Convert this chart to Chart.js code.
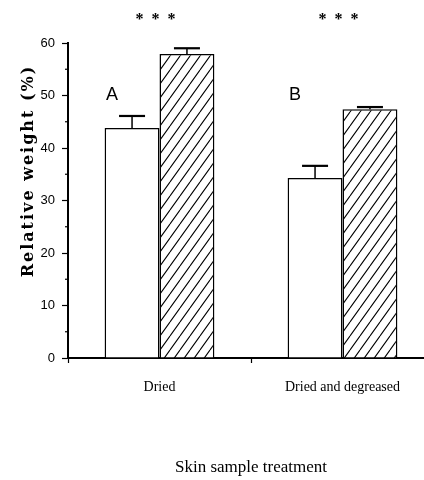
<!DOCTYPE html>
<html lang="en">

<head>
    <meta charset="UTF-8">
    <title>Relative weight by skin sample treatment</title>
    <script src="https://cdn.jsdelivr.net/npm/chart.js"></script>
    <style>
        html,
        body {
            margin: 0;
            padding: 0;
            background: #fff;
            overflow: hidden;
        }

        .wrap {
            width: 434px;
            height: 480px;
        }
    </style>
</head>

<body>
    <div class="wrap">
        <canvas id="weightChart" width="434" height="480"></canvas>
    </div>

    <script>
        // values
        const categories = ["Dried", "Dried and degreased"];
        const openValues = [43.8, 34.3];
        const openErrors = [2.3, 2.3];
        const hatchedValues = [57.9, 47.4];
        const hatchedErrors = [1.1, 0.4];
        const groupLetters = ["A", "B"];
        const significance = ["***", "***"];
        const yTicks = [0, 10, 20, 30, 40, 50, 60];
        const yMinorTicks = [5, 15, 25, 35, 45, 55];

        // diagonal hatch for the second bar of each pair
        function makeHatch() {
            const tile = document.createElement("canvas");
            tile.width = 10;
            tile.height = 14;
            const c = tile.getContext("2d");
            c.fillStyle = "#fff";
            c.fillRect(0, 0, 10, 14);
            c.strokeStyle = "#000";
            c.lineWidth = 1.1;
            c.beginPath();
            c.moveTo(-10, 14); c.lineTo(0, 0);
            c.moveTo(0, 14); c.lineTo(10, 0);
            c.moveTo(10, 14); c.lineTo(20, 0);
            c.stroke();
            return document.getElementById("weightChart").getContext("2d").createPattern(tile, "repeat");
        }

        const errorBars = {
            id: "errorBars",
            afterDatasetsDraw(chart) {
                const ctx = chart.ctx;
                const y = chart.scales.y;
                [openErrors, hatchedErrors].forEach((errs, di) => {
                    const meta = chart.getDatasetMeta(di);
                    meta.data.forEach((bar, i) => {
                        const val = chart.data.datasets[di].data[i];
                        const top = y.getPixelForValue(val + errs[i]);
                        ctx.save();
                        ctx.strokeStyle = "#000";
                        ctx.lineWidth = 1.5;
                        ctx.beginPath();
                        ctx.moveTo(bar.x, bar.y);
                        ctx.lineTo(bar.x, top);
                        ctx.stroke();
                        ctx.lineWidth = 2.2;
                        ctx.beginPath();
                        ctx.moveTo(bar.x - 13, top);
                        ctx.lineTo(bar.x + 13, top);
                        ctx.stroke();
                        ctx.restore();
                    });
                });
            }
        };

        const extras = {
            id: "extras",
            afterDraw(chart) {
                const ctx = chart.ctx;
                const x = chart.scales.x;
                const y = chart.scales.y;
                ctx.save();
                ctx.fillStyle = "#000";
                ctx.strokeStyle = "#000";

                // minor ticks on the y axis
                ctx.lineWidth = 1.2;
                yMinorTicks.forEach(v => {
                    const py = y.getPixelForValue(v);
                    ctx.beginPath();
                    ctx.moveTo(x.left - 3, py);
                    ctx.lineTo(x.left, py);
                    ctx.stroke();
                });

                // group letters above the open bars
                const openMeta = chart.getDatasetMeta(0);
                ctx.font = '18px "Liberation Sans", sans-serif';
                ctx.textAlign = "center";
                ctx.textBaseline = "middle";
                groupLetters.forEach((t, i) => {
                    ctx.fillText(t, openMeta.data[i].x - 20, y.getPixelForValue(50));
                });

                // significance stars
                ctx.font = 'bold 16px "Liberation Serif", serif';
                ctx.textBaseline = "top";
                significance.forEach((s, i) => {
                    const cx = x.getPixelForValue(i) - 4;
                    s.split("").forEach((ch, k) => {
                        ctx.fillText(ch, cx + (k - 1) * 16, 12);
                    });
                });

                // y axis title
                ctx.translate(29, 171);
                ctx.rotate(-Math.PI / 2);
                ctx.font = 'bold 16px "DejaVu Serif", serif';
                ctx.textBaseline = "middle";
                ctx.letterSpacing = "2px";
                ctx.fillText("Relative weight (%)", 0, 0);
                ctx.restore();
            }
        };

        new Chart(document.getElementById("weightChart"), {
            type: "bar",
            data: {
                labels: categories,
                datasets: [{
                    label: "Open",
                    data: openValues,
                    backgroundColor: "#fff",
                    borderColor: "#000",
                    borderWidth: 1.5
                }, {
                    label: "Hatched",
                    data: hatchedValues,
                    backgroundColor: makeHatch(),
                    borderColor: "#000",
                    borderWidth: 1.5
                }]
            },
            options: {
                responsive: false,
                animation: false,
                categoryPercentage: 0.6,
                barPercentage: 1.0,
                layout: { padding: { top: 43, left: 0, right: 0, bottom: 0 } },
                plugins: {
                    legend: { display: false },
                    tooltip: { enabled: false }
                },
                scales: {
                    x: {
                        offset: true,
                        grid: {
                            offset: true,
                            drawOnChartArea: false,
                            tickLength: 5,
                            tickColor: "#000",
                            tickWidth: 1.2
                        },
                        border: { color: "#000", width: 2 },
                        ticks: {
                            color: "#000",
                            padding: 16,
                            font: { family: '"Liberation Serif", serif', size: 14 }
                        },
                        title: {
                            display: true,
                            text: "Skin sample treatment",
                            color: "#000",
                            font: { family: '"Liberation Serif", serif', size: 17 },
                            padding: { top: 0, bottom: 2 }
                        },
                        afterFit: s => { s.height = 122; }
                    },
                    y: {
                        min: 0,
                        max: 60,
                        afterBuildTicks: s => { s.ticks = yTicks.map(v => ({ value: v })); },
                        grid: {
                            drawOnChartArea: false,
                            tickLength: 6,
                            tickColor: "#000",
                            tickWidth: 1.2
                        },
                        border: { color: "#000", width: 2 },
                        ticks: {
                            color: "#000",
                            padding: 7,
                            font: { family: '"Liberation Sans", sans-serif', size: 13 }
                        },
                        afterFit: s => { s.width = 68; }
                    }
                }
            },
            plugins: [errorBars, extras]
        });
    </script>

</body>

</html>
